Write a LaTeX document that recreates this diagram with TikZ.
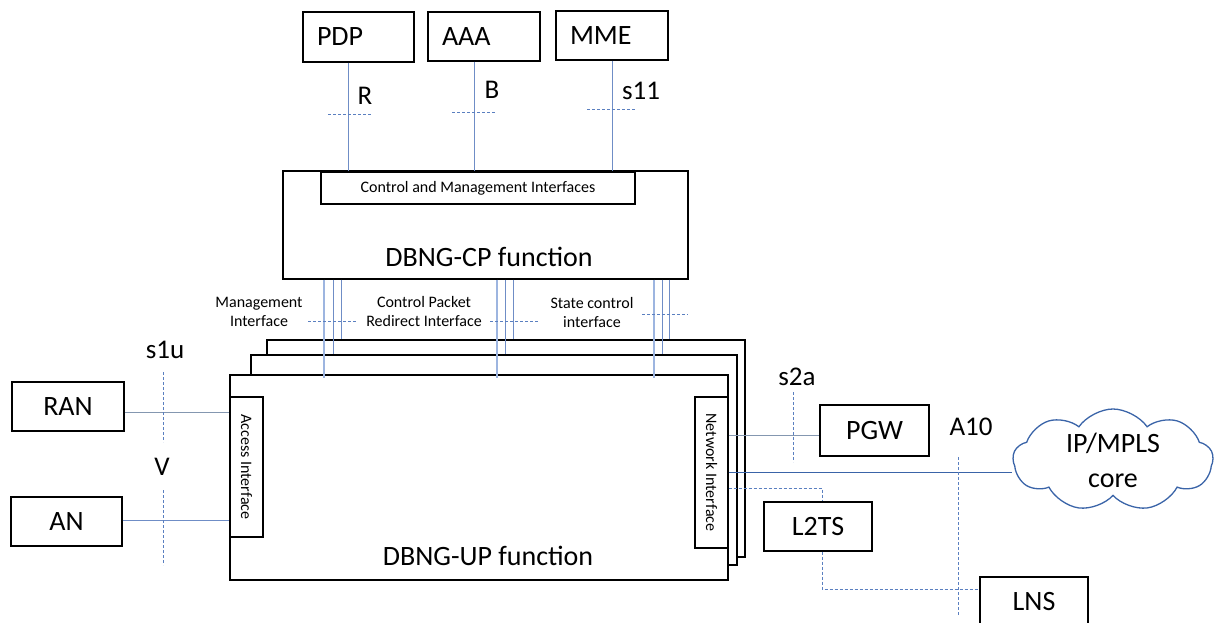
\documentclass[tikz,border=0pt]{standalone}
\usepackage{fontspec}
\setmainfont{Carlito}
\usetikzlibrary{shapes.symbols}
\definecolor{lnk}{HTML}{6F8DC6}
\definecolor{lnkl}{HTML}{9DB5E0}
\definecolor{dshc}{HTML}{5A7FC0}
\definecolor{cld}{HTML}{3A64A8}
\definecolor{gry}{HTML}{8497B0}
\begin{document}
\begin{tikzpicture}[x=1pt,y=-1pt,
  blk/.style={draw=black, line width=1.4pt, inner sep=0pt},
  bigf/.style={font=\fontsize{28}{35}\selectfont},
  midf/.style={font=\fontsize{27}{32}\selectfont},
  smallf/.style={font=\fontsize{16}{19}\selectfont},
  boxtxt/.style={blk, bigf, align=left, inner xsep=14pt, inner ysep=0pt},
  lbl/.style={midf, inner sep=0pt},
  slbl/.style={smallf, inner sep=0pt, align=center},
  link/.style={draw=lnk, line width=1pt},
  linkl/.style={draw=lnkl, line width=1.3pt},
  dsh/.style={draw=dshc, line width=0.8pt, dash pattern=on 3pt off 2pt},
]
\useasboundingbox (0,0) rectangle (1214,622);

% top boxes
\node[boxtxt, minimum width=111, minimum height=50, text width=83] (pdp) at (358.5,37) {PDP};
\node[boxtxt, minimum width=112, minimum height=49, text width=84] (aaa) at (484,36.5) {AAA};
\node[boxtxt, minimum width=112, minimum height=49, text width=84] (mme) at (612,35.5) {MME};

% CP
\node[blk, minimum width=405, minimum height=108] (cp) at (485.5,225) {};
\node[blk, smallf, fill=white, minimum width=314, minimum height=32] (cmi) at (478,188) {Control and Management Interfaces};
\node[bigf, inner sep=0pt] (cptxt) at (489,257) {DBNG-CP function};

% top links
\draw[link] (pdp.south -| 348,0) -- (cmi.north -| 348,0);
\draw[link] (aaa.south -| 474,0) -- (cmi.north -| 474,0);
\draw[link] (mme.south -| 612,0) -- (cmi.north -| 612,0);
\node[lbl] (lR) at (365,96) {R};
\node[lbl] (lB) at (492,90) {B};
\node[lbl] (ls11) at (641,91) {s11};
\coordinate (dR1) at (328,114); \coordinate (dR2) at (371,114);
\coordinate (dB1) at (452,112); \coordinate (dB2) at (496,112);
\coordinate (dS1) at (587,109); \coordinate (dS2) at (635,109);
\draw[dsh] (dR1) -- (dR2);
\draw[dsh] (dB1) -- (dB2);
\draw[dsh] (dS1) -- (dS2);

% UP boxes
\node[blk, fill=white, minimum width=478, minimum height=217] (upback) at (506,448.5) {};
\node[blk, fill=white, minimum width=486, minimum height=210] (upmid) at (494,460) {};
\node[blk, fill=white, minimum width=498, minimum height=205] (upfront) at (479,477.5) {};
\node[blk, smallf, fill=white, minimum width=140, minimum height=33, rotate=-90] (access) at (246.5,467) {Access Interface};
\node[blk, smallf, fill=white, minimum width=151, minimum height=33, rotate=-90] (netif) at (711.5,472.5) {Network Interface};
\node[bigf, inner sep=0pt] (uptxt) at (488,556) {DBNG-UP function};

% CP-UP links
\draw[linkl] (cp.south -| 324,0) -- (324,378);
\draw[link] (cp.south -| 333,0) -- (upmid.north -| 333,0);
\draw[link] (cp.south -| 341,0) -- (upback.north -| 341,0);
\draw[linkl] (cp.south -| 497,0) -- (497,378);
\draw[link] (cp.south -| 505,0) -- (upmid.north -| 505,0);
\draw[link] (cp.south -| 513,0) -- (upback.north -| 513,0);
\draw[linkl] (cp.south -| 654,0) -- (654,378);
\draw[link] (cp.south -| 662,0) -- (upmid.north -| 662,0);
\draw[link] (cp.south -| 669,0) -- (upback.north -| 669,0);

\node[slbl] (lmgmt) at (259,311.5) {Management\\Interface};
\node[slbl] (lcpr) at (424,311.5) {Control Packet\\Redirect Interface};
\node[slbl] (lstate) at (592,312) {State control\\interface};
\coordinate (dM1) at (308,321); \coordinate (dM2) at (357,321);
\coordinate (dC1) at (490,321); \coordinate (dC2) at (538,321);
\coordinate (dT1) at (642,314); \coordinate (dT2) at (688,314);
\draw[dsh] (dM1) -- (dM2);
\draw[dsh] (dC1) -- (dC2);
\draw[dsh] (dT1) -- (dT2);

% left side
\node[blk, bigf, minimum width=112, minimum height=49] (ran) at (68,406.5) {RAN};
\node[blk, bigf, minimum width=111, minimum height=49] (an) at (66.5,521.5) {AN};
\draw[draw=gry, line width=1pt] (ran.east |- 0,412) -- (upfront.west |- 0,412);
\draw[link] (an.east |- 0,520) -- (upfront.west |- 0,520);
\node[lbl] (ls1u) at (165,350) {s1u};
\node[lbl] (lV) at (162,467) {V};
\coordinate (dU1) at (163,372); \coordinate (dU2) at (163,442);
\coordinate (dV1) at (163,490); \coordinate (dV2) at (163,565);
\draw[dsh] (dU1) -- (dU2);
\draw[dsh] (dV1) -- (dV2);

% right side
\node[blk, bigf, minimum width=109, minimum height=51] (pgw) at (874.5,430.5) {PGW};
\node[blk, bigf, minimum width=108, minimum height=49] (l2ts) at (818,526.5) {L2TS};
\node[blk, bigf, minimum width=108, minimum height=49] (lns) at (1034,601.5) {LNS};
\node[cloud, draw=cld, line width=1.3pt, cloud puffs=9, cloud puff arc=110, aspect=2.1,
      minimum width=200, minimum height=102, align=center, bigf, inner sep=0pt] (core) at (1113,460) {IP/MPLS\\core};
\draw[draw=gry, line width=1pt] (upfront.east |- 0,435) -- (pgw.west |- 0,435);
\draw[draw=cld, line width=1pt] (upfront.east |- 0,472) -- (core.west |- 0,472);
\draw[dsh] (upfront.east |- 0,488) -| (l2ts.north -| 822,0);
\draw[dsh] (l2ts.south -| 822,0) |- (lns.west |- 0,589);
\node[lbl] (ls2a) at (797,377) {s2a};
\node[lbl] (lA10) at (971,427) {A10};
\coordinate (dS2a1) at (793,392); \coordinate (dS2a2) at (793,462);
\coordinate (dA1) at (958,457); \coordinate (dA2) at (958,615);
\draw[dsh] (dS2a1) -- (dS2a2);
\draw[dsh] (dA1) -- (dA2);
\end{tikzpicture}
\end{document}
